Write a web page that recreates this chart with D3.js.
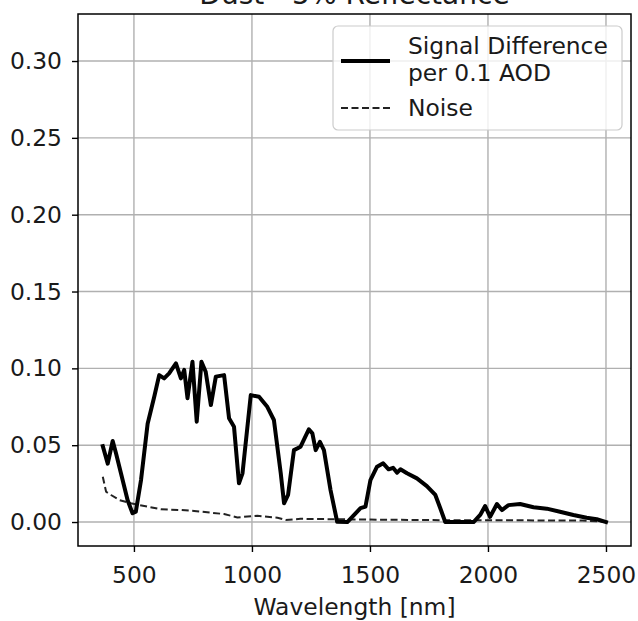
<!DOCTYPE html>
<html>
<head>
<meta charset="utf-8">
<script src="https://cdn.jsdelivr.net/npm/d3@7"></script>
<style>
  body { margin: 0; background: #fff; }
  svg { display: block; font-family: "DejaVu Sans", sans-serif; }
</style>
</head>
<body>
<svg id="chart" width="638" height="621"></svg>
<script>
// ---- data ----
const titleText = "Dust - 5% Reflectance";
const xLabel = "Wavelength [nm]";
const xTicks = [500, 1000, 1500, 2000, 2500];
const yTicks = [0.00, 0.05, 0.10, 0.15, 0.20, 0.25, 0.30];

const signalWavelength = [368, 389, 410, 424, 445, 473, 494, 508, 530, 558, 586, 607, 628, 649, 678, 699, 713, 727,
  748, 766, 786, 804, 826, 847, 882, 903, 924, 945, 960, 995, 1030, 1065, 1093, 1122, 1136, 1153, 1178, 1206,
  1241, 1256, 1270, 1288, 1305, 1333, 1361, 1404, 1439, 1460, 1481, 1502, 1530, 1556, 1579, 1598, 1615, 1629,
  1657, 1699, 1741, 1777, 1798, 1819, 1939, 1967, 1988, 2009, 2038, 2059, 2087, 2136, 2193, 2249, 2305, 2362,
  2418, 2461, 2500];
const signalValue = [0.0494, 0.038, 0.0527, 0.0447, 0.0317, 0.0143, 0.0057, 0.0067, 0.0273, 0.064, 0.0815, 0.0956,
  0.0935, 0.0967, 0.1033, 0.0935, 0.099, 0.0805,
  0.1043, 0.0653, 0.1043, 0.0978, 0.0761, 0.0946, 0.0956, 0.0675, 0.062, 0.0252, 0.0317, 0.0826, 0.0815, 0.075,
  0.0664, 0.0317, 0.0122, 0.0176, 0.0468, 0.049,
  0.0603, 0.0577, 0.0468, 0.0522, 0.0468, 0.0208, 0.0002, 0.0, 0.0057, 0.009, 0.010, 0.0273, 0.036, 0.0382,
  0.0343, 0.0353, 0.0321, 0.0343, 0.0317, 0.0284, 0.0234, 0.0176, 0.009, 0.0, 0.0, 0.0046, 0.0104, 0.0034,
  0.0117, 0.0078, 0.011, 0.0117, 0.0096, 0.0087, 0.0067, 0.0046, 0.0028, 0.0018, 0.0];

const noiseWavelength = [368, 382, 403, 438, 487, 558, 614, 699, 755, 882, 938, 1023, 1108, 1143, 1206, 1350, 1500,
  1800, 2100, 2400, 2500];
const noiseValue = [0.0295, 0.0197, 0.0176, 0.0143, 0.0122, 0.010, 0.0083, 0.0078, 0.0072, 0.0052, 0.003, 0.0041,
  0.0028, 0.0013, 0.0021, 0.0018, 0.0016, 0.0012, 0.0011, 0.0010, 0.0002];

const legendLabels = [["Signal Difference", "per 0.1 AOD"], ["Noise"]];

// ---- layout ----
const svg = d3.select("#chart");
const m = { left: 78, right: 631, top: 14, bottom: 546 };
const x = d3.scaleLinear().domain([263, 2606]).range([m.left, m.right]);
const y = d3.scaleLinear().domain([-0.0156, 0.3306]).range([m.bottom, m.top]);
const fs = 23.4;

// grid
const grid = svg.append("g");
grid.selectAll("line.vx").data(xTicks).join("line")
  .attr("x1", d => x(d)).attr("x2", d => x(d))
  .attr("y1", m.top).attr("y2", m.bottom)
  .attr("stroke", "#b0b0b0").attr("stroke-width", 1.4);
grid.selectAll("line.hy").data(yTicks).join("line")
  .attr("y1", d => y(d)).attr("y2", d => y(d))
  .attr("x1", m.left).attr("x2", m.right)
  .attr("stroke", "#b0b0b0").attr("stroke-width", 1.4);

// axes
const xAxis = svg.append("g").attr("transform", `translate(0,${m.bottom})`)
  .call(d3.axisBottom(x).tickValues(xTicks).tickSize(6).tickPadding(14).tickFormat(d3.format("d")));
const yAxis = svg.append("g").attr("transform", `translate(${m.left},0)`)
  .call(d3.axisLeft(y).tickValues(yTicks).tickSize(6).tickPadding(10).tickFormat(d3.format(".2f")));
[xAxis, yAxis].forEach(a => {
  a.select(".domain").remove();
  a.selectAll(".tick line").attr("stroke", "#000").attr("stroke-width", 1.4);
  a.selectAll(".tick text").attr("font-size", fs).attr("fill", "#1a1a1a")
    .attr("font-family", "DejaVu Sans, sans-serif");
});

// lines
const line = d3.line().x(d => x(d[0])).y(d => y(d[1]));
svg.append("path")
  .datum(noiseWavelength.map((w, i) => [w, noiseValue[i]]))
  .attr("d", line).attr("fill", "none")
  .attr("stroke", "#222").attr("stroke-width", 2).attr("stroke-dasharray", "7,3.5");
svg.append("path")
  .datum(signalWavelength.map((w, i) => [w, signalValue[i]]))
  .attr("d", line).attr("fill", "none")
  .attr("stroke", "#000").attr("stroke-width", 4).attr("stroke-linejoin", "round").attr("stroke-linecap", "square");

// frame
svg.append("rect").attr("x", m.left).attr("y", m.top)
  .attr("width", m.right - m.left).attr("height", m.bottom - m.top)
  .attr("fill", "none").attr("stroke", "#000").attr("stroke-width", 1.5);

// title (partially cut off by the top edge, as in the reference)
svg.append("text").attr("x", (m.left + m.right) / 2).attr("y", 4)
  .attr("text-anchor", "middle").attr("font-size", 28).attr("fill", "#1a1a1a").text(titleText);

// x label
svg.append("text").attr("x", (m.left + m.right) / 2).attr("y", 615)
  .attr("text-anchor", "middle").attr("font-size", fs).attr("fill", "#1a1a1a").text(xLabel);

// legend
const lg = svg.append("g");
lg.append("rect").attr("x", 333).attr("y", 26).attr("width", 289).attr("height", 104).attr("rx", 5)
  .attr("fill", "rgba(255,255,255,0.8)").attr("stroke", "#cccccc").attr("stroke-width", 1.2);
lg.append("line").attr("x1", 341).attr("x2", 390).attr("y1", 61).attr("y2", 61)
  .attr("stroke", "#000").attr("stroke-width", 4);
lg.append("line").attr("x1", 341).attr("x2", 390).attr("y1", 108).attr("y2", 108)
  .attr("stroke", "#222").attr("stroke-width", 2).attr("stroke-dasharray", "7,3.5");
const t1 = lg.append("text").attr("x", 408).attr("font-size", fs).attr("fill", "#1a1a1a");
legendLabels[0].forEach((s, i) => t1.append("tspan").attr("x", 408).attr("y", 54 + i * 27).text(s));
lg.append("text").attr("x", 408).attr("y", 116).attr("font-size", fs).attr("fill", "#1a1a1a").text(legendLabels[1][0]);
</script>
</body>
</html>
